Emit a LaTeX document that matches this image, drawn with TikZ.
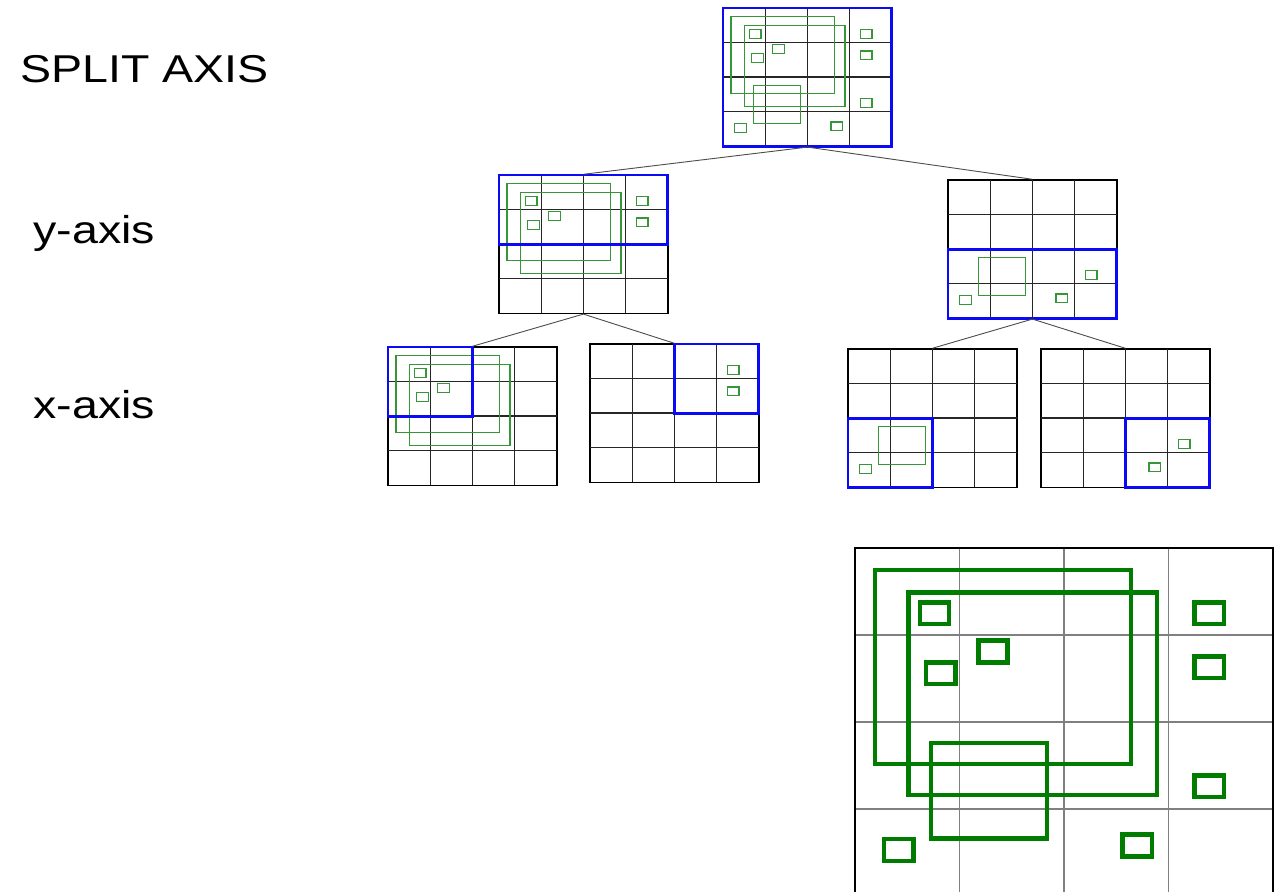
\documentclass[tikz,border=0pt]{standalone}
\usepackage{fontspec}
\setmainfont{Liberation Sans}
\definecolor{splitBlue}{RGB}{10,10,245}
\definecolor{objGreen}{RGB}{55,150,55}
\definecolor{objDark}{RGB}{0,125,0}
% object layout in cell units (column, row from top-left)
\newcommand{\boxA}{(0.19,0.25) rectangle (2.64,2.48)}
\newcommand{\boxB}{(0.51,0.51) rectangle (2.89,2.84)}
\newcommand{\boxC}{(0.73,2.24) rectangle (1.84,3.34)}
\newcommand{\sq}[2]{(#1-0.14,#2-0.125) rectangle +(0.28,0.25)}
\newcommand{\cells}[1]{\foreach \i in {1,2,3} {\draw[#1] (\i,0) -- (\i,4) (0,\i) -- (4,\i);}}

\begin{document}
\begin{tikzpicture}[x=0.5pt, y=-0.5pt,
    axislabel/.style={font=\fontsize{19.4}{23}\selectfont, anchor=base west, inner sep=0pt},
    cellframe/.style={draw=black, line width=0.7pt, rectangle, inner sep=0pt,
                minimum width=84.4pt, minimum height=69.2pt},
    cellline/.style={draw=black!85, line width=0.7pt},
    splitbox/.style={draw=splitBlue, line width=1.4pt},
    objbox/.style={draw=objGreen, line width=0.6pt},
    link/.style={draw=black!70, line width=0.45pt},
    bigframe/.style={draw=black, line width=1pt, rectangle, inner sep=0pt,
                minimum width=209pt, minimum height=174pt},
    bigline/.style={draw=black!50, line width=0.7pt},
    bigobj/.style={draw=objDark, line width=2.2pt}
]
  \clip (0,0) rectangle (1276,892);
  \fill[white] (0,0) rectangle (1276,892);

  % --- Labels ---
  \node[axislabel] (lsplit) at (20,83)  {\scalebox{1.2}[1]{SPLIT AXIS}};
  \node[axislabel] (ly)     at (33,244) {\scalebox{1.2}[1]{y-axis}};
  \node[axislabel] (lx)     at (33,419) {\scalebox{1.2}[1]{x-axis}};

  % --- Root: all objects ---
  \begin{scope}[shift={(723,8)}, x=21.1pt, y=-17.3pt]
    \node[cellframe] (root) at (2,2) {};
    \cells{cellline}
    \draw[objbox] \boxA \boxB \boxC \sq{0.76}{0.75} \sq{1.32}{1.19} \sq{0.82}{1.44}
      \sq{3.39}{0.75} \sq{3.39}{1.37} \sq{3.39}{2.74} \sq{0.42}{3.47} \sq{2.70}{3.42};
    \draw[splitbox] (0,0) rectangle (4,4);
  \end{scope}

  % --- y-axis: upper half ---
  \begin{scope}[shift={(499,175)}, x=21.1pt, y=-17.3pt]
    \node[cellframe] (yup) at (2,2) {};
    \cells{cellline}
    \draw[objbox] \boxA \boxB \sq{0.76}{0.75} \sq{1.32}{1.19} \sq{0.82}{1.44}
      \sq{3.39}{0.75} \sq{3.39}{1.37};
    \draw[splitbox] (0,0) rectangle (4,2);
  \end{scope}

  % --- y-axis: lower half ---
  \begin{scope}[shift={(948,180)}, x=21.1pt, y=-17.3pt]
    \node[cellframe] (ylow) at (2,2) {};
    \cells{cellline}
    \draw[objbox] \boxC \sq{3.39}{2.74} \sq{0.42}{3.47} \sq{2.70}{3.42};
    \draw[splitbox] (0,2) rectangle (4,4);
  \end{scope}

  % --- x-axis: four quadrants ---
  \begin{scope}[shift={(388,347)}, x=21.1pt, y=-17.3pt]
    \node[cellframe] (xa) at (2,2) {};
    \cells{cellline}
    \draw[objbox] \boxA \boxB \sq{0.76}{0.75} \sq{1.32}{1.19} \sq{0.82}{1.44};
    \draw[splitbox] (0,0) rectangle (2,2);
  \end{scope}

  \begin{scope}[shift={(590,344)}, x=21.1pt, y=-17.3pt]
    \node[cellframe] (xb) at (2,2) {};
    \cells{cellline}
    \draw[objbox] \sq{3.39}{0.75} \sq{3.39}{1.37};
    \draw[splitbox] (2,0) rectangle (4,2);
  \end{scope}

  \begin{scope}[shift={(848,349)}, x=21.1pt, y=-17.3pt]
    \node[cellframe] (xc) at (2,2) {};
    \cells{cellline}
    \draw[objbox] \boxC \sq{0.42}{3.47};
    \draw[splitbox] (0,2) rectangle (2,4);
  \end{scope}

  \begin{scope}[shift={(1041,349)}, x=21.1pt, y=-17.3pt]
    \node[cellframe] (xd) at (2,2) {};
    \cells{cellline}
    \draw[objbox] \sq{3.39}{2.74} \sq{2.70}{3.42};
    \draw[splitbox] (2,2) rectangle (4,4);
  \end{scope}

  % --- Tree links ---
  \draw[link] (root.south) -- (yup.north);
  \draw[link] (root.south) -- (ylow.north);
  \draw[link] (yup.south)  -- (xa.north);
  \draw[link] (yup.south)  -- (xb.north);
  \draw[link] (ylow.south) -- (xc.north);
  \draw[link] (ylow.south) -- (xd.north);

  % --- Enlarged root cell layout ---
  \begin{scope}[shift={(855,548)}, x=52.25pt, y=-43.5pt]
    \cells{bigline}
    \node[bigframe] (big) at (2,2) {};
    \draw[bigobj] \boxA \boxB \boxC \sq{0.76}{0.75} \sq{1.32}{1.19} \sq{0.82}{1.44}
      \sq{3.39}{0.75} \sq{3.39}{1.37} \sq{3.39}{2.74} \sq{0.42}{3.47} \sq{2.70}{3.42};
  \end{scope}
\end{tikzpicture}
\end{document}
